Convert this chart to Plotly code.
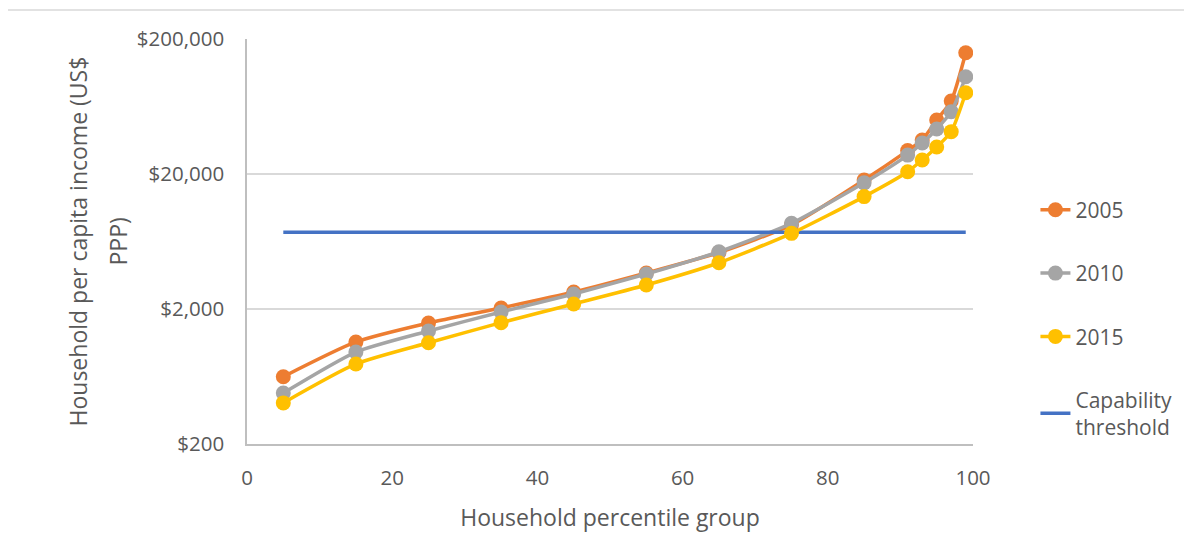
import plotly.graph_objects as go

percentile = [5, 15, 25, 35, 45, 55, 65, 75, 85, 91, 93, 95, 97, 99]
income_2005 = [630, 1140, 1575, 2035, 2670, 3700, 5240, 8400, 18050, 29800, 35700, 50200, 69500, 158000]
income_2010 = [477, 960, 1375, 1900, 2585, 3630, 5310, 8630, 17200, 27600, 33900, 43100, 57900, 105000]
income_2015 = [403, 783, 1125, 1585, 2180, 3010, 4400, 7270, 13600, 20800, 25400, 31700, 41200, 80000]
threshold_x = [5, 99]
threshold_y = [7400, 7400]

y_ticks = [200, 2000, 20000, 200000]
y_ticktext = ["$200", "$2,000", "$20,000", "$200,000"]
x_ticks = [0, 20, 40, 60, 80, 100]
y_title_lines = ["Household per capita income (US$", "PPP)"]

FONT = "Open Sans"
TXT = "#595959"

fig = go.Figure()

def series(x, y, name, color, rank):
    fig.add_trace(go.Scatter(
        x=x, y=y, name=name, mode="lines+markers",
        line=dict(color=color, width=3.5, shape="spline", smoothing=0.6),
        marker=dict(color=color, size=15),
        legendgroup=name, legendrank=rank,
    ))

series(percentile, income_2005, "2005", "#ED7D31", 1)
series(percentile, income_2010, "2010", "#A5A5A5", 2)
fig.add_trace(go.Scatter(
    x=threshold_x, y=threshold_y, name="Capability<br>threshold", mode="lines",
    line=dict(color="#4472C4", width=3.5), legendgroup="thr", legendrank=4,
))
series(percentile, income_2015, "2015", "#FFC000", 3)

# y-axis title drawn as two rotated lines (wider line spacing than Plotly's default)
for xpos, line_text in zip([-0.2328, -0.1790], y_title_lines):
    fig.add_annotation(
        text=line_text, xref="paper", yref="paper", x=xpos, y=0.5,
        xanchor="center", yanchor="middle", textangle=-90, showarrow=False,
        font=dict(size=23, color=TXT, family=FONT),
    )

# page body has an 8px margin; figure is sized/offset to compensate
fig.update_layout(
    width=1184, height=540,
    paper_bgcolor="white", plot_bgcolor="white",
    margin=dict(l=239, r=219, t=31, b=104),
    font=dict(family=FONT, color=TXT, size=20),
    legend=dict(
        x=1.086, y=0.628, xanchor="left", yanchor="top",
        font=dict(family=FONT, size=21, color=TXT),
        tracegroupgap=33, bgcolor="rgba(0,0,0,0)",
    ),
    xaxis=dict(
        range=[0, 100], tickvals=x_ticks, showgrid=False, zeroline=False,
        showline=True, linecolor="#BFBFBF", linewidth=1.5,
        ticks="", ticklabelstandoff=15,
        tickfont=dict(size=20.5, color=TXT, family=FONT),
        title=dict(text="Household percentile group", font=dict(size=23, color=TXT, family=FONT), standoff=20),
    ),
    yaxis=dict(
        type="log", range=[2.30103, 5.30103],
        tickvals=y_ticks, ticktext=y_ticktext,
        showgrid=True, gridcolor="#D9D9D9", gridwidth=1.5,
        showline=True, linecolor="#BFBFBF", linewidth=1.5,
        zeroline=False, ticks="", ticklabelstandoff=17,
        tickfont=dict(size=20.5, color=TXT, family=FONT),
    ),
    shapes=[dict(
        type="rect", xref="paper", yref="paper",
        x0=-0.3306, x1=1.35, y0=-0.35, y1=1.0716,
        line=dict(color="#D9D9D9", width=1.5), layer="below",
    )],
)

fig.write_html("out.html")
